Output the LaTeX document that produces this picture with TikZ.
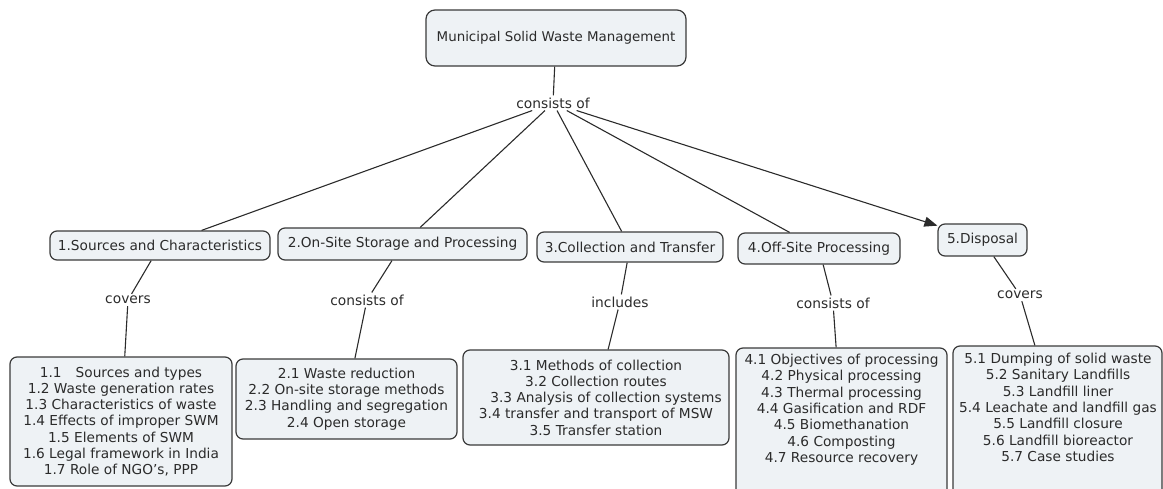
\documentclass[tikz,border=0pt]{standalone}
\usepackage{fontspec}
\setmainfont{DejaVu Sans}
\usetikzlibrary{arrows.meta}
\definecolor{boxfill}{HTML}{EEF2F5}
\definecolor{boxline}{HTML}{3A3A3A}
\definecolor{txt}{HTML}{2B2B2B}
\tikzset{
  box/.style={draw=boxline, line width=1.2pt, fill=boxfill, rounded corners=7pt, inner sep=0pt, text=txt, align=center, font=\fontsize{13.7}{16.2}\selectfont},
  body/.style={text=txt, align=center, inner sep=0pt, font=\fontsize{13.7}{16.3}\selectfont},
  lab/.style={text=txt, inner sep=2pt, font=\fontsize{13.8}{16}\selectfont},
  conn/.style={draw=txt, line width=1.1pt},
}
\begin{document}
\begin{tikzpicture}[x=1pt,y=-1pt]
\useasboundingbox (0,0) rectangle (1163,488);
% top
\node[box, rounded corners=9pt, minimum width=260pt, minimum height=56pt, font=\fontsize{13.4}{16}\selectfont] (top) at (556,38) {Municipal Solid Waste Management};
\node[lab] (c0) at (553,103) {consists of};
% level 2
\node[box, minimum width=220pt, minimum height=29pt] (a) at (160,245.5) {1.Sources and Characteristics};
\node[box, minimum width=249pt, minimum height=32pt] (b) at (402.5,244) {2.On-Site Storage and Processing};
\node[box, minimum width=186pt, minimum height=30pt] (c) at (630,247) {3.Collection and Transfer};
\node[box, minimum width=162pt, minimum height=31pt] (d) at (819,248.5) {4.Off-Site Processing};
\node[box, minimum width=89pt, minimum height=32pt] (e) at (982.5,240) {5.Disposal};
% linking labels
\node[lab] (la) at (128,300) {covers};
\node[lab] (lb) at (367,300) {consists of};
\node[lab] (lc) at (620,302) {includes};
\node[lab] (ld) at (833,303) {consists of};
\node[lab] (le) at (1020,295) {covers};
% level 3
\node[box, minimum width=222pt, minimum height=129pt] (sa) at (121,421.5) {1.1\hspace{14pt}Sources and types\\1.2 Waste generation rates\\1.3 Characteristics of waste\\1.4 Effects of improper SWM\\1.5 Elements of SWM\\1.6 Legal framework in India\\1.7 Role of NGO’s, PPP};
\node[box, minimum width=221pt, minimum height=80pt] (sb) at (346.5,399) {2.1 Waste reduction\\2.2 On-site storage methods\\2.3 Handling and segregation\\2.4 Open storage};
\node[box, minimum width=266pt, minimum height=95pt] (sc) at (596,397.5) {3.1 Methods of collection\\3.2 Collection routes\\\hspace*{20pt}3.3 Analysis of collection systems\\3.4 transfer and transport of MSW\\3.5 Transfer station};
\node[box, minimum width=211pt, minimum height=152pt] (sd) at (841.5,424) {};
\node[box, minimum width=209pt, minimum height=152pt] (se) at (1057.5,422) {};
\node[body, anchor=north] (td) at (841.5,354) {4.1 Objectives of processing\\4.2 Physical processing\\4.3 Thermal processing\\4.4 Gasification and RDF\\4.5 Biomethanation\\4.6 Composting\\4.7 Resource recovery};
\node[body, anchor=north] (te) at (1058,353) {5.1 Dumping of solid waste\\5.2 Sanitary Landfills\\5.3 Landfill liner\\5.4 Leachate and landfill gas\\5.5 Landfill closure\\5.6 Landfill bioreactor\\5.7 Case studies};
% connectors
\draw[conn] (top) -- (c0);
\draw[conn] (c0) -- (a);
\draw[conn] (c0) -- (b);
\draw[conn] (c0) -- (c);
\draw[conn] (c0) -- (d);
\draw[conn, -{Triangle[length=13pt,width=10pt]}] (c0) -- (e);
\draw[conn] (a) -- (la); \draw[conn] (la) -- (sa);
\draw[conn] (b) -- (lb); \draw[conn] (lb) -- (sb);
\draw[conn] (c) -- (lc); \draw[conn] (lc) -- (sc);
\draw[conn] (d) -- (ld); \draw[conn] (ld) -- (sd);
\draw[conn] (e) -- (le); \draw[conn] (le) -- (se);
\end{tikzpicture}
\end{document}
